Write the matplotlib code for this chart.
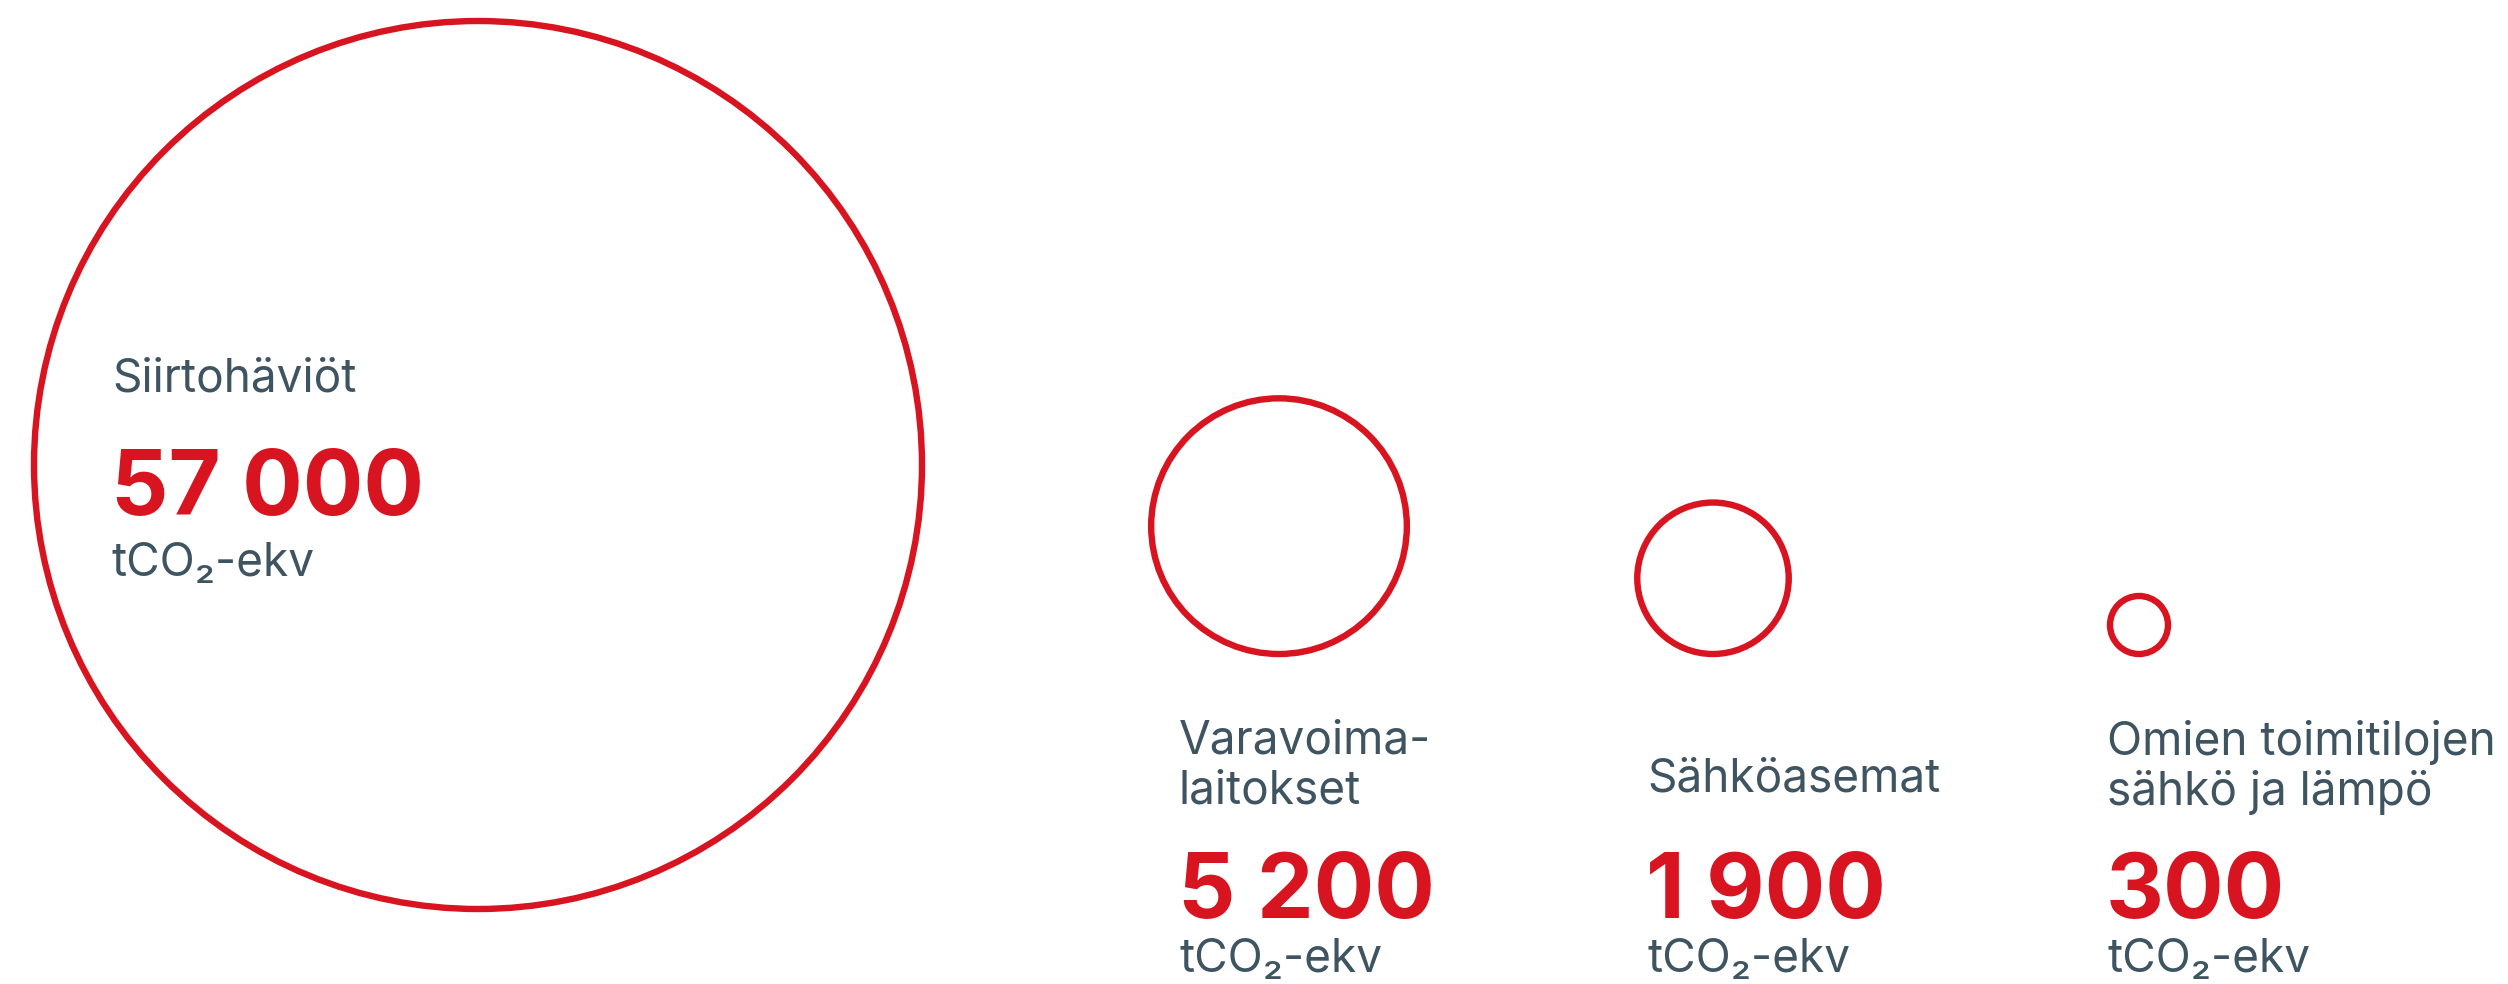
import matplotlib
matplotlib.use("Agg")
import matplotlib.pyplot as plt
from matplotlib.patches import Circle

# ---- data ----
categories = ["Siirtohäviöt", "Varavoima-\nlaitokset", "Sähköasemat", "Omien toimitilojen\nsähkö ja lämpö"]
values = [57000, 5200, 1900, 300]
value_labels = ["57 000", "5 200", "1 900", "300"]
unit_label = "tCO₂-ekv"

# ---- style / layout ----
RED = "#D7141F"
GREY = "#3F5461"
W, H = 2508, 984
R_MAX = 444          # radius (px) of the largest bubble
EXP = 0.52           # power scale exponent
LW = 4.6

fig = plt.figure(figsize=(W / 100, H / 100), dpi=100)
ax = fig.add_axes([0, 0, 1, 1])
ax.set_xlim(0, W)
ax.set_ylim(H, 0)
ax.axis("off")

vmax = max(values)
radii = [R_MAX * (v / vmax) ** EXP for v in values]

circle_x = [478, 1279, 1713, 2139]
small_bottom = 654
circle_y = [465] + [small_bottom - r for r in radii[1:]]

for cx, cy, r in zip(circle_x, circle_y, radii):
    ax.add_patch(Circle((cx, cy), r, fill=False, edgecolor=RED, linewidth=LW))

fam = ["Inter", "DejaVu Sans"]
label_px = 46
num_px = 90

text_x = [112, 1179, 1647, 2107]
label_base = [392, 754, 792, 755]
num_base = [515, 918, 918, 918]
unit_base = [576, 972, 972, 972]
line_step = 50

def px2pt(p):
    return p * 72 / 100

for i, cat in enumerate(categories):
    lines = cat.split("\n")
    for j, ln in enumerate(lines):
        ax.text(text_x[i], label_base[i] + j * line_step, ln, ha="left", va="baseline",
                fontsize=px2pt(label_px), color=GREY, family=fam)
    ax.text(text_x[i] - 1, num_base[i], value_labels[i], ha="left", va="baseline",
            fontsize=px2pt(num_px), color=RED, family=fam, fontweight="bold")
    ax.text(text_x[i], unit_base[i], unit_label, ha="left", va="baseline",
            fontsize=px2pt(label_px), color=GREY, family=fam)

fig.savefig("out.png", dpi=100, facecolor="white")
